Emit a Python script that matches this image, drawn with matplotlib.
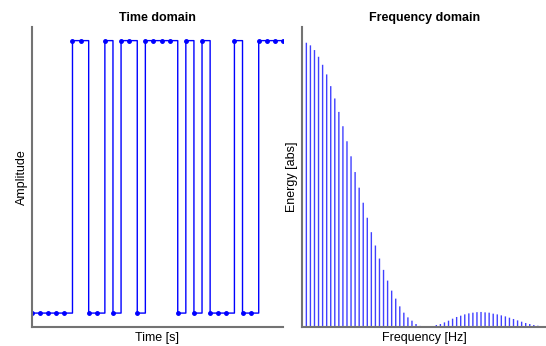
import matplotlib
matplotlib.use("Agg")
import matplotlib.pyplot as plt
import numpy as np

plt.rcParams['font.family'] = ['Liberation Sans', 'DejaVu Sans']

# Time domain: binary samples
sample_index = list(range(32))
amplitude = [0, 0, 0, 0, 0, 1, 1, 0, 0, 1, 0, 1, 1, 0, 1, 1,
             1, 1, 0, 1, 0, 1, 0, 0, 0, 1, 0, 0, 1, 1, 1, 1]

# Frequency domain: energy per frequency bin
energy = [283.3, 280.7, 276.0, 269.3, 261.3, 251.7, 240.0, 227.7, 214.3, 200.0,
          185.0, 170.0, 154.3, 138.7, 123.7, 108.7, 94.3, 81.0, 68.0, 56.7,
          46.0, 36.0, 28.0, 20.3, 14.0, 9.3, 6.0, 2.7, 0.8, 0.3,
          0.0, 0.2, 1.7, 2.7, 4.3, 6.0, 8.0, 9.7, 11.0, 12.3,
          13.3, 14.0, 14.5, 14.7, 14.3, 14.0, 13.0, 12.3, 11.3, 10.3,
          9.0, 7.7, 6.3, 5.0, 3.7, 2.7, 1.7, 1.0, 0.6]
freq_bins = list(range(len(energy)))

fig = plt.figure(figsize=(5.46, 3.46), dpi=100)
W, H = 546, 346
ax1 = fig.add_axes([32 / W, (H - 326.7) / H, 251 / W, 299.7 / H])
ax2 = fig.add_axes([302.3 / W, (H - 326.7) / H, (W - 302.3) / W, 299.7 / H])

line, = ax1.plot(sample_index, amplitude, color='b', marker='.', markersize=5,
                 linewidth=1.0, drawstyle='steps-post')
line.set_snap(False)
ax1.set_xlim(0, 31)
ax1.set_ylim(-0.05, 1.05)
ax1.set_title('Time domain', fontsize=9, fontweight='bold', pad=4)
ax1.set_xlabel('Time [s]', fontsize=9, labelpad=4)
ax1.set_ylabel('Amplitude', fontsize=9, labelpad=3)

vl = ax2.vlines(freq_bins, 0, energy, color='b', linewidth=1.0, alpha=0.75)
vl.set_snap(False)
ax2.set_xlim(-1, 59)
ax2.set_ylim(0, 299)
ax2.set_title('Frequency domain', fontsize=9, fontweight='bold', pad=4)
ax2.set_xlabel('Frequency [Hz]', fontsize=9, labelpad=4)
ax2.set_ylabel('Energy [abs]', fontsize=9, labelpad=3)

for ax in (ax1, ax2):
    ax.set_xticks([])
    ax.set_yticks([])
    ax.spines['top'].set_visible(False)
    ax.spines['right'].set_visible(False)
    for s in ('left', 'bottom'):
        ax.spines[s].set_color('0.45')
        ax.spines[s].set_linewidth(1.5)

fig.savefig('out.png', dpi=100)
